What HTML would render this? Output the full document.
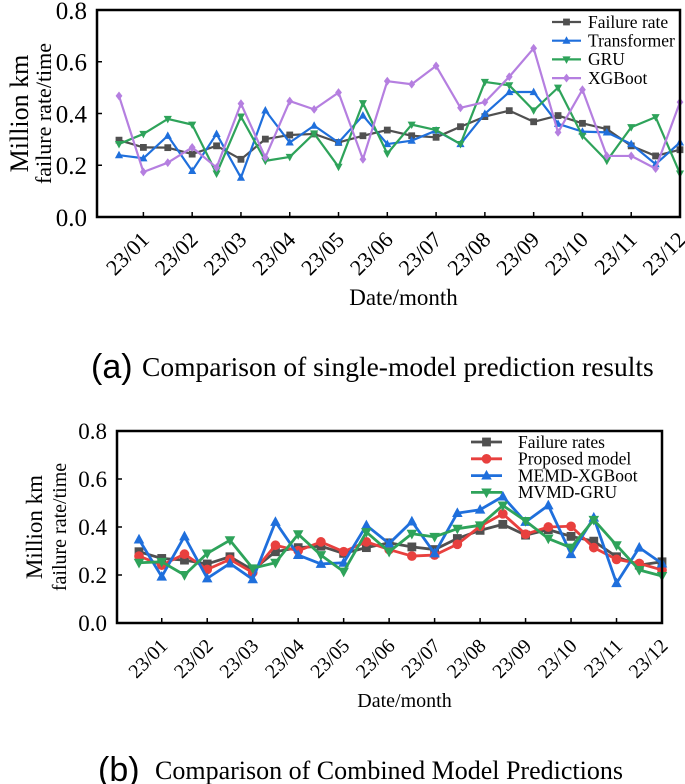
<!DOCTYPE html>
<html><head><meta charset="utf-8"><style>
html,body{margin:0;padding:0;background:#fff;}
svg{display:block;font-family:"Liberation Serif",serif;}
</style></head><body>
<svg id="chart" width="685" height="784" viewBox="0 0 685 784" xmlns="http://www.w3.org/2000/svg">
<g id="ga"></g>
<g id="gb"></g>
<text x="91" y="378" font-family="Liberation Sans, sans-serif" font-size="34">(a)</text>
<text x="142" y="376" font-size="27.5">Comparison of single-model prediction results</text>
<text x="98" y="781" font-family="Liberation Sans, sans-serif" font-size="34">(b)</text>
<text x="155" y="779" font-size="26">Comparison of Combined Model Predictions</text>
</svg>
<script>
const months = ["23/01","23/02","23/03","23/04","23/05","23/06","23/07","23/08","23/09","23/10","23/11","23/12"];
const yTicks = [0, 0.2, 0.4, 0.6, 0.8];
const yTickLabels = ["0.0","0.2","0.4","0.6","0.8"];
const aFailure = [0.297,0.269,0.268,0.243,0.275,0.223,0.301,0.317,0.321,0.288,0.314,0.336,0.314,0.308,0.349,0.388,0.411,0.368,0.392,0.362,0.340,0.275,0.236,0.260];
const aTransformer = [0.239,0.227,0.314,0.178,0.321,0.152,0.412,0.288,0.353,0.288,0.392,0.282,0.295,0.334,0.282,0.399,0.483,0.483,0.360,0.330,0.327,0.282,0.204,0.288];
const aGRU = [0.282,0.321,0.379,0.357,0.168,0.388,0.217,0.232,0.323,0.194,0.440,0.245,0.357,0.336,0.282,0.522,0.509,0.412,0.500,0.314,0.217,0.347,0.386,0.168];
const aXGB = [0.468,0.174,0.210,0.269,0.191,0.438,0.230,0.448,0.416,0.481,0.223,0.525,0.513,0.584,0.422,0.444,0.542,0.652,0.327,0.492,0.236,0.236,0.187,0.444];
const bFailure = [0.297,0.269,0.262,0.246,0.276,0.221,0.297,0.314,0.320,0.290,0.314,0.334,0.317,0.306,0.352,0.386,0.411,0.366,0.389,0.361,0.341,0.276,0.241,0.255];
const bProposed = [0.279,0.241,0.287,0.223,0.265,0.210,0.324,0.301,0.338,0.297,0.338,0.306,0.279,0.283,0.328,0.403,0.455,0.370,0.400,0.403,0.314,0.265,0.248,0.221];
const bMEMD = [0.348,0.193,0.361,0.186,0.248,0.182,0.421,0.283,0.246,0.251,0.407,0.331,0.423,0.290,0.458,0.472,0.527,0.421,0.490,0.287,0.439,0.166,0.314,0.248];
const bMVMD = [0.251,0.255,0.200,0.290,0.345,0.228,0.251,0.370,0.283,0.214,0.379,0.297,0.372,0.359,0.393,0.407,0.490,0.425,0.352,0.314,0.430,0.324,0.221,0.196];
const aNames = ["Failure rate","Transformer","GRU","XGBoot"];
const bNames = ["Failure rates","Proposed model","MEMD-XGBoot","MVMD-GRU"];

const NS="http://www.w3.org/2000/svg";
function mk(parent,tag,attrs,text){const e=document.createElementNS(NS,tag);for(const k in attrs)e.setAttribute(k,attrs[k]);if(text!==undefined)e.textContent=text;parent.appendChild(e);return e;}

function marker(g,type,x,y,s,color){
  let e;
  if(type==="square") e=mk(g,"rect",{x:x-s,y:y-s,width:2*s,height:2*s,fill:color});
  else if(type==="circle") e=mk(g,"circle",{cx:x,cy:y,r:s*1.1,fill:color});
  else if(type==="up") e=mk(g,"polygon",{points:`${x},${y-s*1.3} ${x-s*1.2},${y+s*0.9} ${x+s*1.2},${y+s*0.9}`,fill:color});
  else if(type==="down") e=mk(g,"polygon",{points:`${x},${y+s*1.3} ${x-s*1.2},${y-s*0.9} ${x+s*1.2},${y-s*0.9}`,fill:color});
  else e=mk(g,"polygon",{points:`${x},${y-s*1.3} ${x+s},${y} ${x},${y+s*1.3} ${x-s},${y}`,fill:color});
  return e;
}

function drawChart(g,cfg){
  const {L,R,T,B,x0,x1,series,names,colors,markers,ms,lw,fs,tfs,leg,title1,title2,tx1,tx2,xtitleY,xtfs} = cfg;
  const n=series[0].length;
  const xs=i=>x0+(x1-x0)*i/(n-1);
  const ys=v=>B-(B-T)*v/0.8;
  series.forEach((d,si)=>{
    const sg=mk(g,"g",{});
    
    
    const pts=d.map((v,i)=>xs(i)+","+ys(v)).join(" ");
    const pl=mk(sg,"polyline",{points:pts,fill:"none",stroke:colors[si],"stroke-width":lw,"stroke-linejoin":"round"});
    
    
    d.forEach((v,i)=>{
      const m=marker(sg,markers[si],xs(i),ys(v),ms,colors[si]);
      
      
    });
  });
  const fr=mk(g,"rect",{x:L,y:T,width:R-L,height:B-T,fill:"none",stroke:"#000","stroke-width":2.5});
  
  
  yTicks.forEach((v,i)=>{
    const y=ys(v);
    const tk=mk(g,"line",{x1:L,x2:L+5,y1:y,y2:y,stroke:"#000","stroke-width":1.5});
    
    
    const t=mk(g,"text",{x:L-10,y:y+fs*0.35,"text-anchor":"end","font-size":fs},yTickLabels[i]);
    
    
  });
  months.forEach((m,k)=>{
    const x=xs(2*k+1);
    const tk=mk(g,"line",{x1:x,x2:x,y1:B,y2:B-5,stroke:"#000","stroke-width":1.5});
    
    
    const t=mk(g,"text",{x:0,y:0,"text-anchor":"end","font-size":xtfs,transform:`translate(${x+7},${B+24}) rotate(-45)`},m);
    
    
  });
  const xt=mk(g,"text",{x:(L+R)/2+15,y:xtitleY,"text-anchor":"middle","font-size":tfs},"Date/month");
  
  
  const cy=(T+B)/2;
  const y1=mk(g,"text",{x:0,y:0,"text-anchor":"middle","font-size":title1,transform:`translate(${tx1},${cy}) rotate(-90)`},"Million km");
  
  
  const y2=mk(g,"text",{x:0,y:0,"text-anchor":"middle","font-size":title2,transform:`translate(${tx2},${cy}) rotate(-90)`},"failure rate/time");
  
  
  const lg=mk(g,"g",{});
  
  
  names.forEach((nm,i)=>{
    const y=leg.y0+leg.dy*i;
    const e=mk(lg,"g",{});
    
    
    mk(e,"line",{x1:leg.x1,x2:leg.x2,y1:y,y2:y,stroke:colors[i],"stroke-width":lw});
    marker(e,markers[i],(leg.x1+leg.x2)/2,y,ms,colors[i]);
    mk(e,"text",{x:leg.tx,y:y+leg.fs*0.33,"font-size":leg.fs},nm);
  });
}

drawChart(document.getElementById("ga"),{
  L:97,R:680,T:10,B:217,x0:119,x1:680,
  series:[aFailure,aTransformer,aGRU,aXGB],names:aNames,
  colors:["#505050","#1f6fdc","#2ea35a","#b57fe0"],markers:["square","up","down","diamond"],
  ms:3.4,lw:2.2,fs:25,tfs:23,xtfs:22,title1:26,title2:22,tx1:28,tx2:51,xtitleY:305,
  leg:{x1:552,x2:581,tx:588,y0:22,dy:18.7,fs:17.5}
});
drawChart(document.getElementById("gb"),{
  L:117,R:662,T:431,B:623,x0:139,x1:662,
  series:[bFailure,bProposed,bMEMD,bMVMD],names:bNames,
  colors:["#505050","#e8403e","#1f6fdc","#2ea35a"],markers:["square","circle","up","down"],
  ms:4.4,lw:2.8,fs:23,tfs:20,xtfs:20,title1:23,title2:20,tx1:42,tx2:66,xtitleY:707,
  leg:{x1:471,x2:502,tx:518,y0:442,dy:16.8,fs:17.5}
});
</script>
</body></html>
